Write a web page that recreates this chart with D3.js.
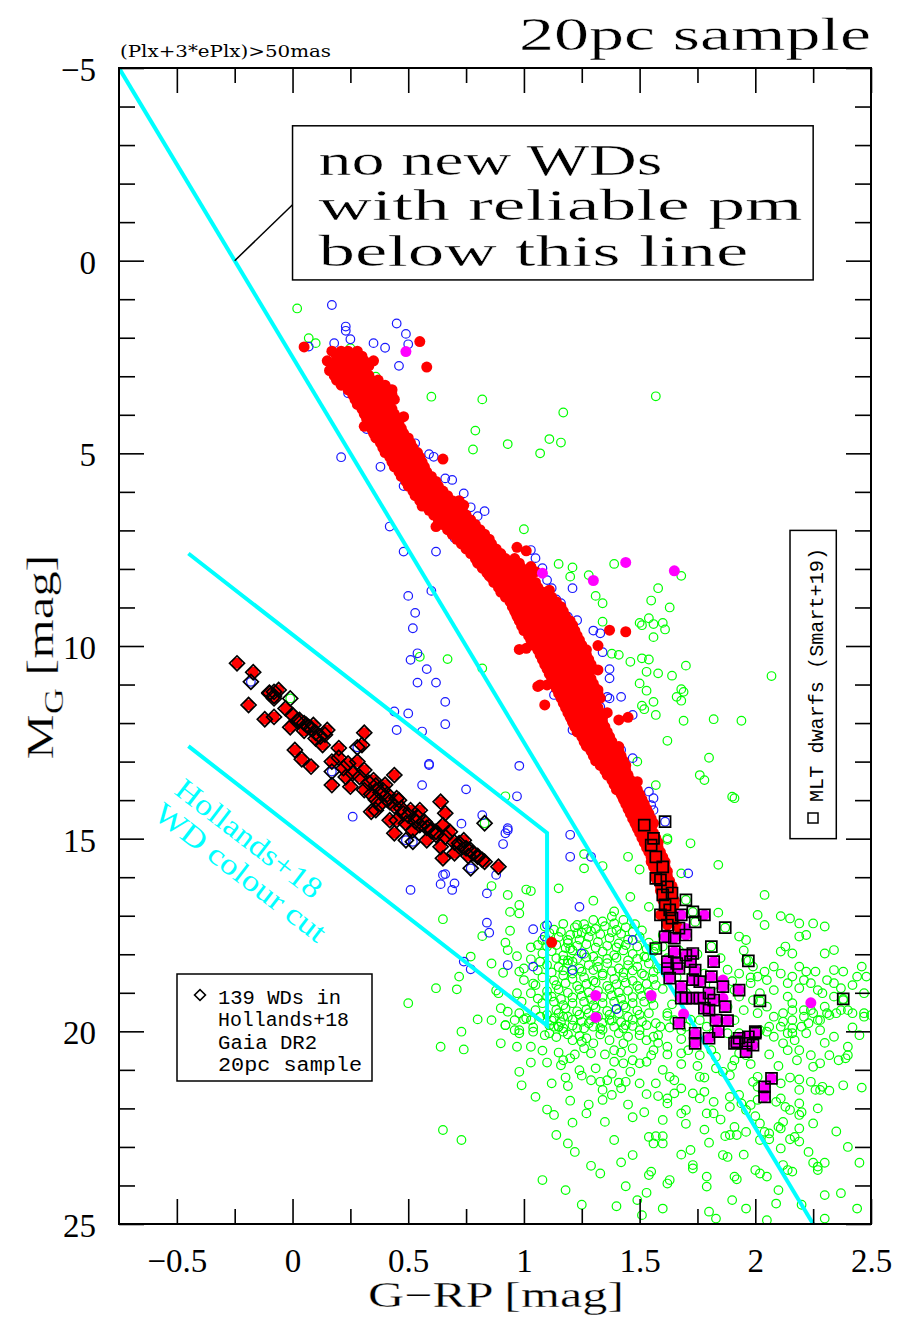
<!DOCTYPE html>
<html>
<head>
<meta charset="utf-8">
<script src="https://cdn.jsdelivr.net/npm/d3@7"></script>
<style>
body { margin: 0; background: #fff; }
text { fill: #000; }
</style>
</head>
<body>
<script>
// axis ranges and tick labels
var xDomain = [-0.75, 2.5];
var yDomain = [-5, 25];
var xMajor = [-0.5, 0, 0.5, 1, 1.5, 2, 2.5];
var xMinor = [-0.25, 0.25, 0.75, 1.25, 1.75, 2.25];
var yMajor = [-5, 0, 5, 10, 15, 20, 25];

// cyan lines
var pmLimit = [[-0.75, -5], [2.25, 25]];
var hollandsCut = [[-0.45, 7.6], [1.1, 14.85], [1.1, 19.85], [-0.45, 12.6]];

// red main sequence, rows of [M_G, G-RP, G-RP, ...]
var msRows = [
  [2.35, 0.17, 0.21, 0.24, 0.28],
  [2.48, 0.19, 0.22, 0.26, 0.3],
  [2.6, 0.15, 0.19, 0.23, 0.27, 0.31, 0.35],
  [2.73, 0.17, 0.21, 0.25, 0.29, 0.33],
  [2.85, 0.16, 0.2, 0.24, 0.28, 0.31],
  [2.98, 0.18, 0.22, 0.25, 0.29, 0.33],
  [3.1, 0.19, 0.23, 0.27, 0.3, 0.34, 0.37],
  [3.23, 0.21, 0.25, 0.29, 0.32, 0.36, 0.4],
  [3.35, 0.24, 0.28, 0.31, 0.35, 0.39, 0.43],
  [3.48, 0.26, 0.29, 0.33, 0.36, 0.4, 0.43],
  [3.6, 0.27, 0.3, 0.34, 0.37, 0.4, 0.44],
  [3.73, 0.28, 0.32, 0.35, 0.39, 0.42],
  [3.85, 0.3, 0.33, 0.37, 0.4, 0.43],
  [3.98, 0.31, 0.34, 0.38, 0.41, 0.44],
  [4.1, 0.32, 0.35, 0.39, 0.42, 0.46],
  [4.23, 0.33, 0.37, 0.4, 0.44, 0.46],
  [4.35, 0.34, 0.37, 0.4, 0.44, 0.47],
  [4.48, 0.35, 0.38, 0.42, 0.45, 0.48],
  [4.6, 0.36, 0.39, 0.43, 0.46, 0.5],
  [4.73, 0.38, 0.41, 0.44, 0.48, 0.51],
  [4.85, 0.39, 0.42, 0.46, 0.49, 0.52],
  [4.98, 0.4, 0.44, 0.47, 0.5, 0.54],
  [5.1, 0.42, 0.45, 0.48, 0.52, 0.55],
  [5.23, 0.43, 0.46, 0.5, 0.53, 0.56],
  [5.35, 0.44, 0.47, 0.51, 0.54, 0.57],
  [5.48, 0.46, 0.49, 0.52, 0.55, 0.58],
  [5.6, 0.47, 0.5, 0.53, 0.57, 0.6],
  [5.73, 0.49, 0.52, 0.55, 0.58, 0.62],
  [5.85, 0.5, 0.53, 0.57, 0.6, 0.63],
  [5.98, 0.52, 0.55, 0.58, 0.62, 0.65],
  [6.1, 0.53, 0.56, 0.6, 0.63, 0.67],
  [6.23, 0.55, 0.58, 0.62, 0.65, 0.69, 0.72],
  [6.35, 0.57, 0.6, 0.64, 0.67, 0.71, 0.74],
  [6.48, 0.59, 0.62, 0.66, 0.69, 0.73],
  [6.6, 0.61, 0.64, 0.68, 0.71, 0.75],
  [6.73, 0.63, 0.66, 0.7, 0.73, 0.77],
  [6.85, 0.65, 0.68, 0.72, 0.75, 0.79],
  [6.98, 0.67, 0.7, 0.74, 0.77, 0.81],
  [7.1, 0.69, 0.72, 0.76, 0.79, 0.83],
  [7.23, 0.71, 0.74, 0.78, 0.81, 0.85],
  [7.35, 0.73, 0.76, 0.8, 0.83, 0.86],
  [7.48, 0.75, 0.78, 0.82, 0.85, 0.88],
  [7.6, 0.77, 0.8, 0.84, 0.87, 0.9],
  [7.73, 0.79, 0.82, 0.86, 0.89, 0.92, 0.96],
  [7.85, 0.8, 0.84, 0.87, 0.91, 0.94, 0.98],
  [7.98, 0.82, 0.86, 0.89, 0.93, 0.96, 0.99],
  [8.1, 0.84, 0.87, 0.91, 0.94, 0.98, 1.01],
  [8.23, 0.86, 0.89, 0.93, 0.96, 1.0, 1.03],
  [8.35, 0.87, 0.91, 0.94, 0.98, 1.01, 1.05],
  [8.48, 0.89, 0.92, 0.96, 0.99, 1.03, 1.06],
  [8.6, 0.9, 0.94, 0.97, 1.01, 1.04, 1.08],
  [8.73, 0.92, 0.95, 0.99, 1.02, 1.06, 1.09, 1.12],
  [8.85, 0.94, 0.97, 1.01, 1.04, 1.08, 1.11, 1.14],
  [8.98, 0.95, 0.99, 1.02, 1.06, 1.09, 1.12, 1.16],
  [9.1, 0.96, 1.0, 1.03, 1.07, 1.1, 1.14, 1.17],
  [9.23, 0.97, 1.01, 1.05, 1.08, 1.12, 1.15, 1.18],
  [9.35, 0.98, 1.02, 1.06, 1.09, 1.13, 1.16, 1.2],
  [9.48, 0.99, 1.03, 1.07, 1.1, 1.14, 1.17, 1.21],
  [9.6, 1.0, 1.04, 1.08, 1.11, 1.15, 1.18, 1.22],
  [9.73, 1.02, 1.05, 1.09, 1.13, 1.16, 1.2, 1.23],
  [9.85, 1.03, 1.07, 1.1, 1.14, 1.17, 1.21, 1.24],
  [9.98, 1.04, 1.08, 1.11, 1.15, 1.18, 1.22, 1.25],
  [10.1, 1.06, 1.09, 1.13, 1.16, 1.2, 1.23, 1.27],
  [10.23, 1.07, 1.1, 1.14, 1.17, 1.21, 1.24, 1.27],
  [10.35, 1.08, 1.11, 1.15, 1.18, 1.22, 1.25, 1.28],
  [10.48, 1.09, 1.12, 1.16, 1.19, 1.23, 1.26, 1.29],
  [10.6, 1.1, 1.13, 1.17, 1.2, 1.24, 1.27, 1.3],
  [10.73, 1.11, 1.14, 1.18, 1.21, 1.25, 1.28],
  [10.85, 1.12, 1.15, 1.19, 1.22, 1.26, 1.29],
  [10.98, 1.13, 1.16, 1.2, 1.23, 1.27, 1.3],
  [11.1, 1.14, 1.17, 1.21, 1.24, 1.28, 1.31],
  [11.23, 1.15, 1.18, 1.22, 1.25, 1.29, 1.32],
  [11.35, 1.16, 1.19, 1.23, 1.26, 1.3, 1.33],
  [11.48, 1.17, 1.2, 1.24, 1.27, 1.31],
  [11.6, 1.18, 1.21, 1.25, 1.28, 1.32],
  [11.73, 1.19, 1.22, 1.26, 1.29, 1.33],
  [11.85, 1.2, 1.23, 1.27, 1.3, 1.34],
  [11.98, 1.21, 1.24, 1.28, 1.31, 1.34],
  [12.1, 1.22, 1.25, 1.29, 1.32, 1.35],
  [12.23, 1.23, 1.27, 1.3, 1.33, 1.36],
  [12.35, 1.25, 1.28, 1.31, 1.34, 1.37],
  [12.48, 1.26, 1.29, 1.32, 1.35, 1.38],
  [12.6, 1.27, 1.3, 1.33, 1.36, 1.39],
  [12.73, 1.29, 1.32, 1.35, 1.38, 1.41],
  [12.85, 1.3, 1.33, 1.36, 1.39, 1.42],
  [12.98, 1.31, 1.34, 1.37, 1.4, 1.43],
  [13.1, 1.33, 1.36, 1.39, 1.42, 1.44],
  [13.23, 1.35, 1.38, 1.41, 1.44],
  [13.35, 1.36, 1.39, 1.42, 1.45],
  [13.48, 1.38, 1.41, 1.44, 1.46],
  [13.6, 1.39, 1.42, 1.45, 1.47],
  [13.73, 1.4, 1.43, 1.46, 1.49],
  [13.85, 1.42, 1.45, 1.48, 1.5],
  [13.98, 1.43, 1.46, 1.49, 1.51],
  [14.1, 1.44, 1.47, 1.5, 1.52],
  [14.23, 1.45, 1.48, 1.51, 1.53],
  [14.35, 1.46, 1.49, 1.52, 1.54],
  [14.48, 1.47, 1.5, 1.53, 1.55],
  [14.6, 1.48, 1.51, 1.54, 1.56],
  [14.73, 1.49, 1.52, 1.55],
  [14.85, 1.5, 1.53, 1.56],
  [14.98, 1.51, 1.54, 1.57],
  [15.1, 1.52, 1.55, 1.58],
  [15.23, 1.53, 1.56, 1.58],
  [15.35, 1.54, 1.57, 1.59],
  [15.48, 1.55, 1.57, 1.6],
  [15.6, 1.55, 1.58, 1.61],
  [15.73, 1.56, 1.59, 1.61],
  [15.85, 1.57, 1.6, 1.62],
  [15.98, 1.57, 1.6, 1.62],
  [16.1, 1.58, 1.61, 1.63],
  [16.23, 1.59, 1.61, 1.64],
  [16.35, 1.59, 1.62, 1.64],
  [16.48, 1.6, 1.62, 1.64],
  [16.6, 1.6, 1.63, 1.65],
  [16.73, 1.61, 1.63, 1.65],
  [16.85, 1.61, 1.64],
  [16.98, 1.62, 1.64],
  [17.1, 1.62, 1.65]
];

// other red stars [G-RP, M_G]
var redOther = [
  [0.05, 2.24], [0.55, 2.1], [0.58, 2.76], [0.31, 4.3], [0.62, 6.9], [0.56, 6.37], [0.65, 5.15],
  [0.48, 4.05], [0.85, 8.18], [0.97, 7.44], [1.01, 7.53], [1.03, 7.94], [1.05, 8.07], [1.11, 8.55],
  [1.13, 8.89], [1.21, 9.46], [1.22, 9.67], [1.37, 9.59], [1.44, 9.63], [1.32, 9.99], [1.32, 10.62],
  [0.98, 10.09], [1.01, 10.06], [1.07, 11.01], [1.1, 11.01], [1.09, 11.53], [1.06, 11.05],
  [1.26, 10.36], [1.32, 11.14], [1.41, 11.92], [1.45, 11.85], [1.36, 11.73], [1.41, 12.61],
  [1.49, 13.52], [1.12, 17.69]
];

var magentaPts = [
  [0.49, 2.36], [1.08, 8.11], [1.3, 8.3], [1.44, 7.83], [1.65, 8.05], [1.31, 19.07], [1.55, 19.07],
  [1.31, 19.64], [1.69, 19.55], [2.24, 19.26], [1.7, 17.33], [1.86, 18.67], [1.86, 19.14]
];

var bluePts = [
  [0.17, 1.15], [0.23, 1.71], [0.23, 1.82], [0.25, 2.04], [0.45, 1.63], [0.49, 1.9], [0.5, 2.17],
  [0.07, 2.23], [0.18, 2.14], [0.35, 2.14], [0.4, 2.26], [0.46, 2.73], [0.28, 2.88], [0.24, 3.44],
  [0.42, 3.34], [0.41, 3.53], [0.34, 3.83], [0.32, 4.37], [0.53, 4.74], [0.59, 5.02], [0.61, 5.09],
  [0.21, 5.1], [0.38, 5.35], [0.46, 5.28], [0.48, 5.85], [0.66, 5.65], [0.69, 5.69], [0.74, 6.04],
  [0.77, 6.4], [0.8, 6.63], [0.83, 6.5], [0.42, 6.9], [0.7, 7.2], [0.62, 7.55], [0.48, 7.55],
  [1.03, 7.51], [1.05, 7.72], [1.08, 7.98], [1.1, 8.29], [1.12, 8.5], [1.14, 8.79], [1.16, 8.89],
  [1.21, 8.5], [0.6, 8.57], [0.5, 8.7], [0.53, 9.14], [0.52, 9.54], [1.19, 9.24], [1.23, 9.33],
  [1.3, 9.6], [1.33, 9.67], [0.51, 10.36], [0.54, 10.19], [0.58, 10.6], [1.37, 10.6], [1.37, 10.84],
  [1.34, 10.16], [0.54, 10.95], [0.62, 10.95], [0.66, 11.45], [1.13, 11.27], [1.36, 11.32],
  [1.37, 11.36], [1.42, 11.32], [0.5, 11.75], [0.66, 12.03], [0.56, 12.22], [1.33, 11.58],
  [1.34, 11.92], [1.47, 11.79], [1.21, 12.18], [1.26, 12.48], [1.31, 12.91], [1.42, 12.7],
  [1.44, 13.09], [1.47, 12.91], [0.59, 13.06], [0.98, 13.11], [0.56, 13.61], [0.75, 13.72],
  [0.97, 13.9], [1.54, 13.78], [1.56, 13.95], [1.55, 14.13], [1.56, 14.26], [0.93, 14.73],
  [1.2, 14.9], [0.82, 14.39], [0.73, 14.61], [0.92, 14.86], [0.93, 14.78], [0.91, 15.14],
  [1.2, 15.47], [1.29, 15.47], [0.66, 15.92], [0.64, 16.18], [0.69, 16.33], [0.88, 15.94],
  [0.84, 16.42], [1.24, 16.77], [0.84, 17.18], [0.85, 17.44], [1.04, 17.35], [1.1, 17.24],
  [1.09, 17.54], [0.74, 18.19], [0.77, 18.39], [0.93, 18.28], [1.04, 18.32], [1.25, 17.98],
  [1.21, 18.41], [1.4, 19.42], [1.71, 15.9], [1.47, 17.63], [0.44, 11.7], [0.45, 12.18],
  [0.59, 13.09], [0.26, 14.43], [0.7, 16.16], [0.65, 15.94], [0.51, 16.33]
];

var greenPts = [
  [0.02, 1.24], [0.07, 2.01], [0.1, 2.14], [0.25, 2.27], [0.36, 3.01], [0.6, 3.53], [0.82, 3.6],
  [1.17, 3.94], [0.79, 4.41], [0.78, 4.9], [0.93, 4.76], [1.11, 4.63], [1.16, 4.72], [1.07, 5.0],
  [1.0, 6.97], [1.57, 3.52], [1.15, 7.87], [1.21, 7.96], [1.2, 8.2], [1.28, 8.16], [1.39, 7.87],
  [1.68, 8.18], [1.58, 8.5], [1.55, 8.82], [1.63, 9.0], [1.31, 8.7], [1.34, 8.89], [1.34, 9.37],
  [1.5, 9.4], [1.54, 9.28], [1.51, 9.46], [1.56, 9.43], [1.6, 9.4], [1.61, 9.57], [1.56, 9.77],
  [1.38, 10.2], [1.41, 10.23], [1.46, 10.41], [1.51, 10.32], [1.54, 10.35], [1.7, 10.51],
  [1.53, 10.67], [1.58, 10.71], [1.64, 10.77], [1.5, 10.97], [1.53, 11.16], [1.68, 11.12],
  [1.69, 11.19], [1.66, 11.32], [1.68, 11.42], [1.51, 11.55], [1.52, 11.64], [1.56, 11.45],
  [1.57, 11.79], [1.69, 11.94], [1.62, 12.46], [1.8, 12.9], [1.78, 13.48], [1.49, 13.0],
  [1.57, 13.61], [0.55, 10.28], [0.67, 10.34], [0.82, 10.58], [0.92, 13.9], [1.62, 14.99],
  [2.07, 10.78], [2.31, 9.53], [2.33, 11.93], [1.94, 11.94], [1.82, 11.9], [1.76, 13.35],
  [1.91, 13.95], [1.9, 13.91], [1.62, 15.03], [1.72, 15.12], [1.84, 15.68], [2.04, 16.46],
  [1.68, 15.9], [1.5, 15.8], [1.45, 15.47], [1.26, 15.77], [1.34, 15.71], [1.15, 16.29],
  [1.3, 16.61], [1.46, 16.51], [1.54, 16.77], [1.84, 16.92], [2.01, 16.98], [2.04, 17.24],
  [2.11, 17.01], [2.15, 17.07], [2.19, 17.2], [2.25, 17.2], [2.3, 17.28], [2.34, 17.89],
  [2.3, 17.98], [2.19, 17.54], [2.22, 17.5], [2.13, 17.8], [2.16, 17.98], [2.11, 17.93],
  [1.93, 17.54], [1.96, 17.63], [1.26, 15.4], [1.01, 16.32], [1.03, 16.36], [0.86, 16.23],
  [0.93, 16.46], [0.98, 16.72], [0.98, 16.94], [0.94, 16.9], [0.65, 17.09], [0.82, 17.53],
  [0.94, 17.39], [0.92, 17.7], [0.93, 17.89], [0.86, 18.24], [0.91, 18.48], [0.97, 18.05],
  [0.77, 18.06], [0.98, 18.45], [1.0, 18.37], [1.03, 17.82], [1.06, 17.76], [1.08, 17.63],
  [1.03, 18.13], [1.07, 18.19], [1.23, 17.24], [1.23, 17.46], [1.27, 17.35], [1.3, 17.11],
  [1.34, 17.15], [1.39, 16.89], [1.38, 17.02], [1.43, 17.11], [1.4, 17.37], [1.19, 17.63],
  [1.2, 17.85], [1.17, 18.15], [1.21, 18.19], [0.72, 18.58], [0.62, 18.88], [0.71, 18.91],
  [0.88, 18.94], [0.89, 19.01], [1.0, 18.67], [1.04, 18.76], [1.03, 19.01], [0.97, 19.01],
  [0.99, 19.23], [0.86, 19.71], [0.8, 19.69], [0.73, 20.01], [0.64, 20.4], [0.74, 20.47],
  [0.9, 19.4], [0.93, 19.49], [0.98, 19.53], [1.0, 19.69], [1.03, 19.71], [0.92, 19.84],
  [0.96, 19.97], [0.98, 20.05], [1.1, 19.1], [1.07, 19.62], [1.11, 19.84], [1.15, 19.88],
  [0.9, 20.31], [0.97, 20.4], [1.03, 20.4], [0.5, 19.27], [0.65, 22.56], [0.73, 22.82],
  // dense core
  [1.09, 17.28], [1.13, 17.36], [1.17, 17.21], [1.22, 17.3], [1.26, 17.22], [1.31, 17.34],
  [1.35, 17.27], [1.39, 17.2], [1.44, 17.3], [1.48, 17.22],
  [1.11, 17.45], [1.16, 17.42], [1.2, 17.5], [1.25, 17.44], [1.29, 17.4], [1.33, 17.48],
  [1.38, 17.43], [1.42, 17.47], [1.47, 17.42], [1.51, 17.38],
  [1.1, 17.64], [1.15, 17.55], [1.19, 17.71], [1.24, 17.62], [1.28, 17.55], [1.32, 17.68],
  [1.37, 17.58], [1.41, 17.72], [1.45, 17.62], [1.5, 17.55], [1.54, 17.7],
  [1.1, 17.8], [1.14, 17.76], [1.18, 17.84], [1.23, 17.78], [1.27, 17.74], [1.31, 17.83],
  [1.36, 17.78], [1.4, 17.82], [1.44, 17.76], [1.49, 17.8], [1.53, 17.86], [1.57, 17.78],
  [1.08, 17.98], [1.12, 17.92], [1.17, 18.03], [1.21, 17.9], [1.26, 17.99], [1.3, 18.06],
  [1.34, 17.93], [1.39, 18.02], [1.43, 17.9], [1.47, 17.99], [1.52, 18.06], [1.56, 17.93],
  [1.14, 18.1], [1.19, 18.16], [1.23, 18.12], [1.27, 18.08], [1.32, 18.18], [1.36, 18.12],
  [1.4, 18.09], [1.45, 18.16], [1.49, 18.12], [1.53, 18.08],
  [1.1, 18.28], [1.15, 18.33], [1.19, 18.24], [1.24, 18.37], [1.28, 18.28], [1.32, 18.33],
  [1.36, 18.23], [1.41, 18.37], [1.45, 18.28], [1.49, 18.32], [1.54, 18.24], [1.58, 18.37],
  [1.12, 18.47], [1.17, 18.42], [1.21, 18.5], [1.25, 18.45], [1.3, 18.41], [1.34, 18.5],
  [1.38, 18.44], [1.43, 18.48], [1.47, 18.42], [1.51, 18.5], [1.56, 18.46],
  [1.08, 18.6], [1.13, 18.68], [1.17, 18.55], [1.21, 18.64], [1.26, 18.6], [1.3, 18.69],
  [1.34, 18.55], [1.39, 18.64], [1.43, 18.6], [1.47, 18.69], [1.52, 18.55], [1.56, 18.64],
  [1.14, 18.8], [1.18, 18.75], [1.23, 18.82], [1.27, 18.77], [1.31, 18.73], [1.36, 18.82],
  [1.4, 18.78], [1.44, 18.74], [1.49, 18.82], [1.53, 18.77], [1.57, 18.8],
  [1.1, 18.96], [1.15, 18.91], [1.19, 19.0], [1.24, 18.91], [1.28, 18.99], [1.32, 18.95],
  [1.37, 18.9], [1.41, 18.99], [1.45, 18.95], [1.5, 18.9], [1.54, 18.99],
  [1.12, 19.1], [1.16, 19.16], [1.21, 19.12], [1.25, 19.08], [1.29, 19.16], [1.34, 19.11],
  [1.38, 19.07], [1.42, 19.15], [1.47, 19.11], [1.51, 19.08], [1.55, 19.15],
  [1.08, 19.27], [1.13, 19.23], [1.17, 19.32], [1.21, 19.27], [1.26, 19.23], [1.3, 19.32],
  [1.34, 19.27], [1.39, 19.23], [1.43, 19.32], [1.47, 19.27], [1.52, 19.23], [1.56, 19.32],
  [1.14, 19.44], [1.18, 19.4], [1.23, 19.48], [1.27, 19.43], [1.31, 19.39], [1.36, 19.47],
  [1.4, 19.42], [1.44, 19.38], [1.49, 19.46],
  [1.1, 19.57], [1.15, 19.53], [1.19, 19.62], [1.24, 19.57], [1.28, 19.53], [1.32, 19.62],
  [1.37, 19.57], [1.41, 19.53], [1.45, 19.62], [1.5, 19.57], [1.54, 19.53],
  [1.12, 19.72], [1.16, 19.76], [1.21, 19.7], [1.25, 19.75], [1.29, 19.71], [1.34, 19.78],
  [1.38, 19.72], [1.42, 19.76], [1.47, 19.7], [1.51, 19.74],
  [1.13, 19.88], [1.17, 19.92], [1.21, 19.85], [1.26, 19.92], [1.3, 19.88], [1.34, 19.96],
  [1.39, 19.88], [1.43, 19.92], [1.47, 19.86],
  [1.06, 18.42], [1.05, 18.8], [1.06, 19.15], [1.05, 19.45], [1.04, 19.9],
  [1.09, 20.1], [1.14, 20.15], [1.19, 20.08], [1.24, 20.12], [1.33, 20.08], [1.41, 20.05],
  [1.5, 20.1], [1.58, 20.3], [1.62, 20.6],
  [1.6, 18.9], [1.64, 19.3], [1.62, 19.6], [1.66, 18.6], [1.7, 19.0], [1.6, 17.8], [1.63, 19.9],
  [1.58, 20.1], [1.68, 20.2], [1.72, 19.7], [1.6, 17.5], [1.62, 18.1], [1.67, 17.9], [1.7, 18.4],
  [1.75, 18.0], [1.78, 18.5], [1.82, 18.8], [1.85, 18.1], [1.88, 18.4], [1.9, 18.7], [1.95, 17.9],
  [1.98, 18.6],
  // right side of the cloud
  [2.46, 18.32], [2.48, 18.58], [2.44, 18.58], [2.42, 18.8], [2.47, 19.01], [2.34, 18.41],
  [2.38, 18.45], [2.31, 18.67], [2.34, 18.75], [2.37, 18.88], [2.29, 19.01], [2.34, 19.1],
  [2.38, 19.19], [2.19, 18.32], [2.22, 18.45], [2.26, 18.45], [2.16, 18.58], [2.21, 18.67],
  [2.24, 18.75], [2.27, 18.93], [2.19, 18.88], [2.14, 18.75], [2.08, 18.32], [2.11, 18.5],
  [2.05, 18.67], [2.08, 18.93], [2.14, 19.1], [2.16, 19.27], [2.21, 19.45], [2.25, 19.53],
  [2.05, 19.36], [2.08, 19.62], [2.12, 19.53], [2.16, 19.71], [2.21, 19.62], [2.27, 19.71],
  [2.31, 19.53], [2.37, 19.45], [2.42, 19.53], [2.47, 19.62], [1.96, 18.15], [1.99, 18.32],
  [2.01, 18.58], [1.98, 18.75], [1.93, 18.5], [2.04, 18.45], [1.91, 18.93], [1.93, 19.1],
  [1.99, 19.19], [2.02, 19.01], [1.95, 19.45], [2.01, 19.53], [2.06, 19.88], [2.11, 19.88],
  [2.02, 19.97], [2.16, 20.05], [2.22, 20.05], [2.28, 19.97], [2.34, 20.14], [2.4, 20.4],
  [1.88, 19.36], [1.91, 19.71], [1.93, 20.05], [1.88, 20.05], [1.82, 20.05], [1.76, 19.71],
  [1.79, 19.88], [1.7, 19.88], [1.75, 20.14], [1.62, 19.53], [1.65, 19.71], [1.68, 19.97],
  [1.59, 19.88], [1.56, 20.14], [2.3, 20.3], [2.45, 20.1], [2.42, 19.9],
  // lower part of the cloud
  [1.03, 20.81], [1.1, 20.81], [0.98, 21.05], [0.99, 21.4], [1.17, 20.75], [1.16, 20.88],
  [1.2, 20.7], [1.24, 21.01], [1.26, 20.44], [1.29, 20.57], [1.25, 20.27], [1.31, 20.96],
  [1.29, 21.27], [1.33, 21.31], [1.36, 21.27], [1.19, 21.42], [1.1, 22.03], [1.13, 22.17],
  [1.21, 22.37], [1.27, 22.13], [1.34, 21.78], [1.38, 21.65], [1.34, 21.52], [1.42, 21.48],
  [1.41, 21.33], [1.44, 21.31], [1.39, 20.79], [1.43, 20.83], [1.47, 20.75], [1.5, 20.83],
  [1.53, 20.79], [1.35, 22.35], [1.47, 22.23], [1.14, 22.69], [1.19, 22.91], [1.22, 23.13],
  [1.29, 23.49], [1.33, 23.69], [1.08, 23.86], [1.18, 24.12], [1.39, 22.82], [1.47, 23.21],
  [1.54, 22.74], [1.57, 22.72], [1.6, 22.72], [1.56, 22.91], [1.6, 22.91], [1.44, 24.02],
  [1.53, 24.19], [1.49, 24.38], [1.4, 24.54], [1.51, 24.77], [1.55, 23.64], [1.54, 23.73],
  [1.62, 23.95], [1.63, 23.86], [1.73, 23.47], [1.73, 23.56], [1.79, 23.77], [1.79, 24.03],
  [1.72, 23.08], [1.8, 22.89], [1.86, 23.21], [1.88, 23.26], [1.87, 22.72], [1.89, 22.69],
  [1.92, 22.69], [1.85, 22.29], [1.91, 22.48], [1.96, 22.61], [1.89, 21.96], [1.96, 22.04],
  [2.02, 22.39], [2.04, 22.61], [2.06, 22.65], [2.02, 22.82], [2.1, 22.48], [2.11, 22.52],
  [2.12, 22.35], [2.06, 22.8], [2.0, 23.6], [2.02, 23.69], [2.05, 23.77], [1.91, 23.77],
  [1.92, 23.84], [1.9, 24.38], [1.96, 24.6], [1.83, 24.86], [1.8, 24.68], [2.12, 23.47],
  [2.14, 23.6], [2.16, 23.64], [2.1, 24.12], [2.09, 24.47], [2.11, 23.04], [2.15, 22.8],
  [2.17, 22.74], [2.19, 22.52], [2.19, 22.86], [2.23, 23.13], [2.25, 23.41], [2.27, 23.51],
  [2.27, 23.6], [2.3, 23.41], [2.3, 24.25], [2.3, 24.86], [2.45, 23.41], [2.27, 22.0],
  [2.25, 22.39], [2.13, 21.96], [2.19, 22.17], [2.38, 21.4], [2.46, 21.46], [2.28, 21.52],
  [2.32, 21.54], [2.19, 21.87], [2.15, 22.04], [2.01, 21.78], [1.98, 21.91], [2.11, 21.74],
  [2.09, 21.83], [1.79, 22.13], [1.82, 22.13], [1.7, 22.04], [1.68, 22.13], [1.65, 21.61],
  [1.68, 21.48], [1.73, 21.61], [1.78, 21.57], [1.76, 21.74], [1.82, 21.83], [1.94, 21.87],
  [1.89, 21.7], [1.93, 21.65], [1.58, 21.68], [1.62, 21.74], [1.62, 21.87], [1.53, 21.63],
  [1.5, 21.35], [1.57, 21.35], [1.65, 21.27], [1.63, 21.18], [1.76, 21.18], [1.78, 21.2],
  [1.83, 20.96], [1.86, 21.05], [1.89, 21.14], [1.99, 21.31], [2.01, 21.18], [2.01, 21.44],
  [2.11, 21.35], [2.15, 21.2], [2.19, 21.52], [2.19, 21.25], [2.24, 21.31], [2.26, 21.52],
  [2.29, 21.44], [2.25, 20.92], [2.28, 20.83], [2.32, 20.62], [2.36, 20.75], [2.4, 20.62],
  [2.39, 20.7], [2.19, 20.49], [2.24, 20.62], [2.18, 20.75], [2.12, 20.31], [2.14, 20.49],
  [2.17, 20.23], [2.08, 20.14], [2.05, 20.01], [2.2, 19.88], [2.23, 19.79], [2.28, 19.71],
  [2.32, 19.58], [2.35, 19.53], [2.47, 19.53], [2.5, 19.58], [2.4, 19.45], [2.3, 19.36],
  [2.24, 19.45], [2.16, 19.45], [2.12, 19.75], [2.16, 19.92], [2.14, 20.05], [1.27, 20.18],
  [1.3, 20.31], [1.21, 20.23], [1.17, 20.01], [1.15, 19.88], [1.37, 20.23], [1.39, 20.49],
  [1.43, 20.31], [1.47, 20.44], [1.45, 20.14], [1.53, 20.23], [1.56, 20.49], [1.62, 20.4],
  [1.68, 20.57], [1.71, 20.49], [1.76, 20.62], [1.81, 20.49], [1.83, 20.66], [1.91, 20.75],
  [1.93, 20.57], [1.96, 20.62], [1.07, 19.62], [1.13, 19.66], [1.17, 19.62], [0.96, 19.71],
  [1.01, 19.66], [0.92, 19.84], [1.11, 20.05], [1.04, 20.01], [0.98, 19.97], [1.23, 19.92],
  [1.28, 19.79], [1.33, 19.92], [1.37, 19.71], [1.44, 19.84], [1.5, 19.97], [1.53, 19.84],
  [1.57, 19.79], [1.08, 20.5], [1.15, 20.55], [1.22, 20.6], [1.35, 20.6], [1.42, 20.55],
  [1.55, 20.62], [1.6, 21.0], [1.68, 20.85], [1.75, 20.9], [1.9, 20.9], [1.98, 20.85],
  [2.06, 20.6], [2.1, 20.9], [1.46, 21.05], [1.38, 21.1], [1.25, 21.15], [1.18, 21.2],
  [1.12, 21.35], [1.05, 21.7], [1.2, 21.8], [1.28, 21.9], [1.45, 21.9], [1.52, 22.1],
  [1.6, 22.3], [1.7, 22.4], [1.78, 22.55], [2.0, 22.2], [2.2, 22.1], [2.35, 22.6], [2.4, 23.0],
  [2.37, 24.2], [2.44, 24.6], [1.95, 23.2], [1.68, 23.2], [1.42, 23.4], [1.25, 24.5],
  [1.6, 24.6], [2.2, 24.5], [2.05, 24.9]
];

// Hollands+18 white dwarfs (diamonds), by colour of the point underneath
var wdRed = [
  [-0.24, 10.45], [-0.17, 10.68], [-0.1, 11.21], [-0.06, 11.14], [-0.08, 11.36], [-0.19, 11.53],
  [-0.12, 11.9], [-0.08, 11.84], [-0.03, 11.62], [0.0, 11.79], [0.03, 11.92], [0.06, 12.05],
  [-0.01, 12.11], [0.08, 12.14], [0.15, 12.18], [0.1, 12.4], [0.13, 12.57], [0.31, 12.25],
  [0.3, 12.57], [0.2, 12.65], [0.01, 12.7], [0.04, 12.94], [0.08, 13.13], [0.17, 13.0],
  [0.22, 13.17], [0.17, 13.61], [0.28, 13.0], [0.31, 13.22], [0.25, 13.65], [0.31, 13.74],
  [0.35, 13.48], [0.39, 13.74], [0.44, 13.35], [0.36, 13.99], [0.41, 13.99], [0.45, 13.95],
  [0.34, 14.3], [0.36, 14.26], [0.45, 14.52], [0.47, 14.21], [0.51, 14.26], [0.54, 14.43],
  [0.57, 14.56], [0.52, 14.78], [0.55, 14.26], [0.59, 14.69], [0.62, 14.82], [0.64, 14.04],
  [0.66, 14.34], [0.65, 14.65], [0.68, 14.82], [0.58, 15.04], [0.64, 15.21], [0.65, 15.51],
  [0.7, 15.38], [0.72, 15.12], [0.74, 15.04], [0.77, 15.3], [0.8, 15.47], [0.83, 15.6],
  [0.89, 15.73], [0.42, 14.52], [0.44, 14.86], [0.49, 14.6], [-0.1, 11.23], [-0.08, 11.19],
  [0.02, 11.95], [0.05, 12.0], [0.07, 12.1], [0.1, 12.25], [0.12, 12.35], [0.14, 12.3],
  [0.05, 12.2], [0.09, 12.05], [0.33, 13.55], [0.36, 13.62], [0.38, 13.8], [0.41, 13.85],
  [0.34, 13.85], [0.38, 14.1], [0.42, 14.05], [0.44, 14.15], [0.4, 13.6], [0.46, 14.0],
  [0.48, 14.35], [0.5, 14.4], [0.53, 14.55], [0.55, 14.65], [0.58, 14.72], [0.6, 14.8],
  [0.62, 14.9], [0.66, 14.95], [0.7, 15.1], [0.72, 15.2], [0.75, 15.25], [0.78, 15.38],
  [0.8, 15.45], [0.82, 15.55], [0.76, 15.45], [0.2, 12.9], [0.24, 13.05], [0.26, 13.3],
  [0.29, 13.4], [0.23, 13.4]
];
var wdBlue = [[-0.18, 10.93], [0.49, 15.04], [0.52, 15.08], [0.77, 15.77], [0.28, 12.63], [0.17, 13.26], [-0.08, 11.3]];
var wdGreen = [[-0.01, 11.36], [0.83, 14.6]];

// MLT dwarfs (squares), by colour of the point underneath
var mltRed = [
  [1.52, 14.65], [1.56, 14.99], [1.55, 15.17], [1.57, 15.47], [1.6, 15.73], [1.57, 16.03],
  [1.59, 16.07], [1.62, 16.25], [1.6, 16.46], [1.64, 16.41], [1.61, 16.72], [1.63, 16.85],
  [1.59, 16.98], [1.64, 17.06], [1.62, 17.24], [1.67, 17.32]
];
var mltMagenta = [
  [1.78, 16.98], [1.68, 16.98], [1.7, 17.5], [1.61, 17.55], [1.65, 17.58], [1.65, 17.93],
  [1.7, 18.02], [1.73, 17.98], [1.62, 18.19], [1.66, 18.24], [1.72, 18.19], [1.82, 18.19],
  [1.62, 18.37], [1.67, 18.37], [1.74, 18.41], [1.81, 18.58], [1.63, 18.62], [1.68, 18.84],
  [1.73, 18.66], [1.76, 18.71], [1.86, 18.84], [1.93, 18.93], [1.68, 19.14], [1.7, 19.14],
  [1.73, 19.14], [1.76, 19.14], [1.8, 19.01], [1.82, 19.19], [1.87, 19.36], [1.78, 19.4],
  [1.8, 19.45], [1.83, 19.71], [1.88, 19.72], [1.67, 19.79], [1.84, 20.01], [1.74, 20.05],
  [1.74, 20.31], [1.8, 20.18], [1.92, 20.27], [1.93, 20.18], [1.96, 20.31], [1.97, 20.14],
  [2.0, 20.05], [1.99, 20.36], [1.96, 20.53], [1.91, 20.31], [2.07, 21.22], [2.04, 21.44],
  [2.04, 21.7]
];
var mltGreen = [
  [1.7, 16.59], [1.73, 16.9], [1.74, 17.16], [1.87, 17.31], [1.57, 17.85], [1.81, 17.8],
  [1.97, 18.17], [2.02, 19.21], [2.38, 19.16], [2.0, 20.01]
];
var mltBlue = [[1.61, 14.56]];

// ---------------------------------------------------------------
var W = 902, H = 1317;
var margin = {top: 68, right: 31, bottom: 93, left: 119},
    width = W - margin.left - margin.right,
    height = H - margin.top - margin.bottom;

var x = d3.scaleLinear().domain(xDomain).range([0, width]);
var y = d3.scaleLinear().domain(yDomain).range([0, height]);

var svg = d3.select("body").append("svg")
    .attr("width", W)
    .attr("height", H)
    .style("display", "block")
    .style("background", "#fff");

var g = svg.append("g")
    .attr("transform", "translate(" + margin.left + "," + margin.top + ")");

g.append("clipPath").attr("id", "clip")
  .append("rect").attr("width", width).attr("height", height);

var plot = g.append("g").attr("clip-path", "url(#clip)");

var serif = "'Liberation Serif', 'DejaVu Serif', serif";
var mono = "'Liberation Mono', 'DejaVu Sans Mono', monospace";

// stretched serif text, very slightly thinned with a white outline
function thin(sel, w) {
  sel.attr("stroke", "#fff").attr("stroke-width", w).attr("stroke-linejoin", "round");
}

function openCircles(pts, color) {
  plot.append("g").selectAll("circle").data(pts).join("circle")
    .attr("cx", function(d) { return x(d[0]); })
    .attr("cy", function(d) { return y(d[1]); })
    .attr("r", 4.3)
    .attr("fill", "none")
    .attr("stroke", color)
    .attr("stroke-width", 1.2);
}
function filledCircles(pts, color) {
  plot.append("g").selectAll("circle").data(pts).join("circle")
    .attr("cx", function(d) { return x(d[0]); })
    .attr("cy", function(d) { return y(d[1]); })
    .attr("r", 5.5)
    .attr("fill", color);
}

// flatten the main-sequence rows
var msPts = [];
msRows.forEach(function(r) {
  r.slice(1).forEach(function(v) { msPts.push([v, r[0]]); });
});

openCircles(greenPts.concat(wdGreen, mltGreen), "#00ff00");
openCircles(bluePts.concat(wdBlue, mltBlue), "#1a1aff");

// cyan lines
var line = d3.line().x(function(d) { return x(d[0]); }).y(function(d) { return y(d[1]); });
plot.append("path").datum(pmLimit).attr("d", line)
  .attr("fill", "none").attr("stroke", "#00ffff").attr("stroke-width", 4);
plot.append("path").datum(hollandsCut).attr("d", line)
  .attr("fill", "none").attr("stroke", "#00ffff").attr("stroke-width", 4);

filledCircles(msPts.concat(redOther, wdRed, mltRed), "#ff0000");
filledCircles(magentaPts.concat(mltMagenta), "#ff00ff");

// diamonds and squares
var wdAll = wdRed.concat(wdBlue, wdGreen);
plot.append("g").selectAll("path").data(wdAll).join("path")
  .attr("d", d3.symbol(d3.symbolSquare, 112))
  .attr("transform", function(d) { return "translate(" + x(d[0]) + "," + y(d[1]) + ") rotate(45)"; })
  .attr("fill", "none").attr("stroke", "#000").attr("stroke-width", 1.7);

var mltAll = mltRed.concat(mltMagenta, mltGreen, mltBlue);
plot.append("g").selectAll("path").data(mltAll).join("path")
  .attr("d", d3.symbol(d3.symbolSquare, 121))
  .attr("transform", function(d) { return "translate(" + x(d[0]) + "," + y(d[1]) + ")"; })
  .attr("fill", "none").attr("stroke", "#000").attr("stroke-width", 1.7);

// axes, ticks inside on all four sides
var fmt = d3.format("");
function styleAxis(sel) {
  sel.select(".domain").remove();
  sel.selectAll(".tick line").attr("stroke", "#000").attr("stroke-width", 1.6);
  sel.selectAll("text").attr("font-family", serif).attr("font-size", 33).attr("fill", "#000");
}
g.append("g").attr("transform", "translate(0," + height + ")")
  .call(d3.axisBottom(x).tickValues(xMajor).tickSize(-25).tickPadding(25).tickFormat(fmt)).call(styleAxis);
g.append("g").attr("transform", "translate(0," + height + ")")
  .call(d3.axisBottom(x).tickValues(xMinor).tickSize(-15).tickFormat("")).call(styleAxis);
g.append("g")
  .call(d3.axisTop(x).tickValues(xMajor).tickSize(-25).tickFormat("")).call(styleAxis);
g.append("g")
  .call(d3.axisTop(x).tickValues(xMinor).tickSize(-15).tickFormat("")).call(styleAxis);

var yMinor = d3.range(-5, 26).filter(function(d) { return d % 5 !== 0; });
g.append("g")
  .call(d3.axisLeft(y).tickValues(yMajor).tickSize(-25).tickPadding(23).tickFormat(fmt)).call(styleAxis)
  .selectAll("text").attr("dy", "0.38em");
g.append("g")
  .call(d3.axisLeft(y).tickValues(yMinor).tickSize(-16).tickFormat("")).call(styleAxis);
g.append("g").attr("transform", "translate(" + width + ",0)")
  .call(d3.axisRight(y).tickValues(yMajor).tickSize(-25).tickFormat("")).call(styleAxis);
g.append("g").attr("transform", "translate(" + width + ",0)")
  .call(d3.axisRight(y).tickValues(yMinor).tickSize(-16).tickFormat("")).call(styleAxis);

g.append("rect").attr("width", width).attr("height", height)
  .attr("fill", "none").attr("stroke", "#000").attr("stroke-width", 2);

// axis titles
svg.append("text")
  .attr("x", 496).attr("y", 1307)
  .attr("text-anchor", "middle")
  .attr("font-family", serif).attr("font-size", 35)
  .attr("textLength", 256).attr("lengthAdjust", "spacingAndGlyphs")
  .text("G\u2212RP [mag]")
  .call(thin, 0.3);

var yt = svg.append("text")
  .attr("transform", "translate(53,657) rotate(-90)")
  .attr("text-anchor", "middle")
  .attr("font-family", serif).attr("font-size", 38)
  .attr("textLength", 205).attr("lengthAdjust", "spacingAndGlyphs")
  .call(thin, 0.3);
yt.append("tspan").text("M");
yt.append("tspan").attr("font-size", 27).attr("dy", 10).text("G");
yt.append("tspan").attr("dy", -10).text(" [mag]");

// top labels
svg.append("text")
  .attr("x", 871).attr("y", 50)
  .attr("text-anchor", "end")
  .attr("font-family", serif).attr("font-size", 46)
  .attr("textLength", 352).attr("lengthAdjust", "spacingAndGlyphs")
  .text("20pc sample")
  .call(thin, 0.4);

svg.append("text")
  .attr("x", 120).attr("y", 57)
  .attr("font-family", "'DejaVu Serif', serif").attr("font-size", 16)
  .attr("textLength", 211).attr("lengthAdjust", "spacingAndGlyphs")
  .text("(Plx+3*ePlx)>50mas");

// "no new WDs" annotation, placed in data units
g.append("line")
  .attr("x1", x(-0.25)).attr("y1", y(0))
  .attr("x2", x(0)).attr("y2", y(-1.45))
  .attr("stroke", "#000").attr("stroke-width", 1.5);
g.append("rect")
  .attr("x", x(0)).attr("y", y(-3.5))
  .attr("width", x(2.25) - x(0)).attr("height", y(0.5) - y(-3.5))
  .attr("fill", "#fff").attr("stroke", "#000").attr("stroke-width", 1.5);
var noteLines = ["no new WDs", "with reliable pm", "below this line"];
var noteLengths = [344, 484, 430];
noteLines.forEach(function(t, i) {
  g.append("text")
    .attr("x", x(0) + 26).attr("y", y(-3.5) + 49 + i * 45.5)
    .attr("font-family", serif).attr("font-size", 44)
    .attr("textLength", noteLengths[i]).attr("lengthAdjust", "spacingAndGlyphs")
    .text(t)
    .call(thin, 0.4);
});

// Hollands+18 colour cut label
[["Hollands+18", 173, 793, 176], ["WD colour cut", 152, 817, 208]].forEach(function(l) {
  svg.append("text")
    .attr("transform", "translate(" + l[1] + "," + l[2] + ") rotate(37.5)")
    .attr("font-family", serif).attr("font-size", 30)
    .style("fill", "#00ffff")
    .attr("textLength", l[3]).attr("lengthAdjust", "spacingAndGlyphs")
    .text(l[0]);
});

// legend: WDs
svg.append("rect").attr("x", 177).attr("y", 974).attr("width", 195).attr("height", 107)
  .attr("fill", "#fff").attr("stroke", "#000").attr("stroke-width", 1.5);
svg.append("path").attr("d", d3.symbol(d3.symbolSquare, 60))
  .attr("transform", "translate(200,995) rotate(45)")
  .attr("fill", "none").attr("stroke", "#000").attr("stroke-width", 1.6);
var legLines = ["139 WDs in", "Hollands+18", "Gaia DR2", "20pc sample"];
var legLengths = [123, 131, 99, 144];
legLines.forEach(function(t, i) {
  svg.append("text")
    .attr("x", 218).attr("y", 1004 + i * 22.3)
    .attr("font-family", mono).attr("font-size", 20)
    .attr("textLength", legLengths[i]).attr("lengthAdjust", "spacingAndGlyphs")
    .text(t);
});

// legend: MLT dwarfs (vertical)
g.append("rect")
  .attr("x", x(2.15)).attr("y", y(7))
  .attr("width", x(2.35) - x(2.15)).attr("height", y(15) - y(7))
  .attr("fill", "#fff").attr("stroke", "#000").attr("stroke-width", 1.5);
svg.append("rect").attr("x", 808).attr("y", 813).attr("width", 10).attr("height", 10)
  .attr("fill", "none").attr("stroke", "#000").attr("stroke-width", 1.5);
svg.append("text")
  .attr("transform", "translate(823,802) rotate(-90)")
  .attr("font-family", mono).attr("font-size", 21)
  .attr("textLength", 254).attr("lengthAdjust", "spacingAndGlyphs")
  .text("MLT dwarfs (Smart+19)");
</script>
</body>
</html>
